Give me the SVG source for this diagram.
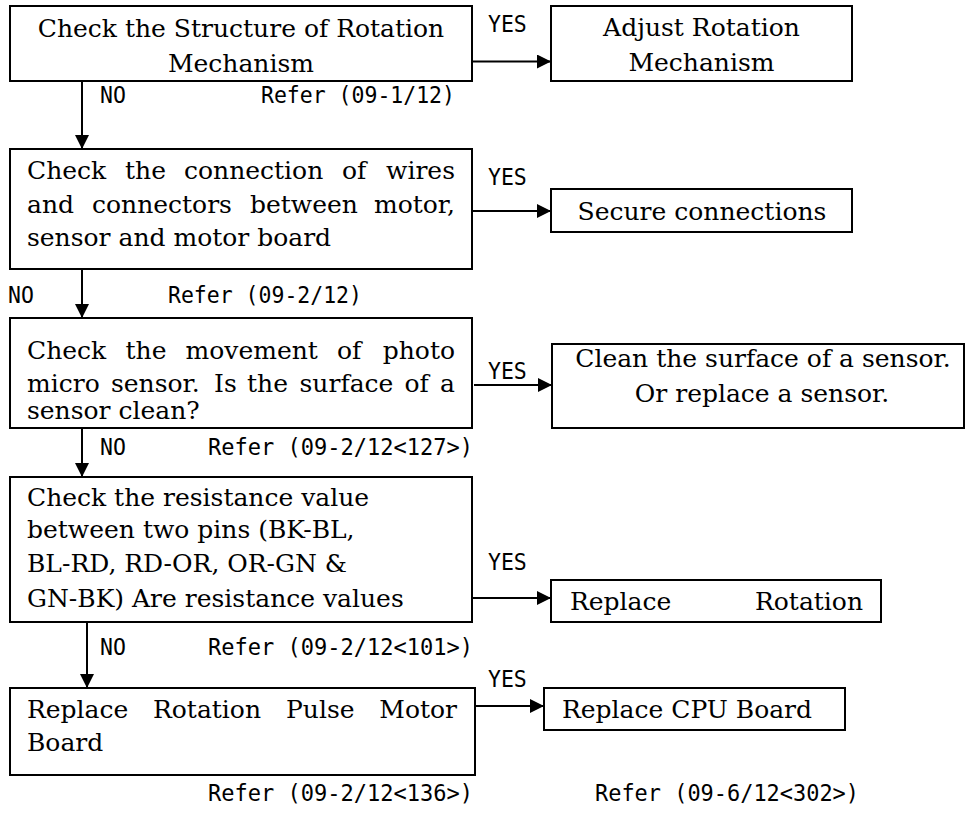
<svg xmlns="http://www.w3.org/2000/svg" width="965" height="814" viewBox="0 0 965 814">
  <style>
    .box { fill: #ffffff; stroke: #000000; stroke-width: 2; }
    .txt { font-family: "DejaVu Serif", "Liberation Serif", serif; font-size: 25px; fill: #000000; }
    .mid { text-anchor: middle; }
    .lbl { font-family: "DejaVu Sans Mono", "Liberation Mono", monospace; font-size: 23.5px; fill: #000000; }
    .link { fill: none; stroke: #000000; stroke-width: 2; marker-end: url(#arrow); }
  </style>
  <defs>
    <marker id="arrow" viewBox="0 0 14 14" refX="14" refY="7" markerWidth="14" markerHeight="14" markerUnits="userSpaceOnUse" orient="auto">
      <path d="M0,0 L14,7 L0,14 Z" fill="#000000"/>
    </marker>
  </defs>
  <rect width="965" height="814" fill="#ffffff"/>

  <!-- connectors and their YES / NO / Refer labels (narrow monospace, 12.9px per cell) -->
  <g id="connectors">
    <line class="link" x1="472" y1="61.5" x2="551" y2="61.5"/>
    <line class="link" x1="82" y1="81" x2="82" y2="149"/>
    <line class="link" x1="472" y1="211" x2="551" y2="211"/>
    <line class="link" x1="82" y1="269" x2="82" y2="318"/>
    <line class="link" x1="474" y1="385" x2="552" y2="385"/>
    <line class="link" x1="82" y1="428" x2="82" y2="477"/>
    <line class="link" x1="472" y1="598" x2="551" y2="598"/>
    <line class="link" x1="87" y1="622" x2="87" y2="688"/>
    <line class="link" x1="475" y1="706" x2="544" y2="706"/>
    <text class="lbl" x="488" y="32" textLength="38.8" lengthAdjust="spacingAndGlyphs">YES</text>
    <text class="lbl" x="100" y="103" textLength="25.9" lengthAdjust="spacingAndGlyphs">NO</text>
    <text class="lbl" x="261" y="103" textLength="194" lengthAdjust="spacingAndGlyphs">Refer (09-1/12)</text>
    <text class="lbl" x="488" y="185" textLength="38.8" lengthAdjust="spacingAndGlyphs">YES</text>
    <text class="lbl" x="8" y="303" textLength="25.9" lengthAdjust="spacingAndGlyphs">NO</text>
    <text class="lbl" x="168" y="303" textLength="194" lengthAdjust="spacingAndGlyphs">Refer (09-2/12)</text>
    <text class="lbl" x="488" y="379" textLength="38.8" lengthAdjust="spacingAndGlyphs">YES</text>
    <text class="lbl" x="100" y="455" textLength="25.9" lengthAdjust="spacingAndGlyphs">NO</text>
    <text class="lbl" x="208" y="455" textLength="265" lengthAdjust="spacingAndGlyphs">Refer (09-2/12&lt;127&gt;)</text>
    <text class="lbl" x="488" y="570" textLength="38.8" lengthAdjust="spacingAndGlyphs">YES</text>
    <text class="lbl" x="100" y="655" textLength="25.9" lengthAdjust="spacingAndGlyphs">NO</text>
    <text class="lbl" x="208" y="655" textLength="265" lengthAdjust="spacingAndGlyphs">Refer (09-2/12&lt;101&gt;)</text>
    <text class="lbl" x="488" y="687" textLength="38.8" lengthAdjust="spacingAndGlyphs">YES</text>
    <text class="lbl" x="208" y="801" textLength="265" lengthAdjust="spacingAndGlyphs">Refer (09-2/12&lt;136&gt;)</text>
    <text class="lbl" x="595" y="801" textLength="264" lengthAdjust="spacingAndGlyphs">Refer (09-6/12&lt;302&gt;)</text>
  </g>

  <g id="check-structure">
    <rect class="box" x="10" y="6" width="462" height="75"/>
    <text class="txt mid" x="241" y="37">Check the Structure of Rotation</text>
    <text class="txt mid" x="241" y="72">Mechanism</text>
  </g>

  <g id="adjust-rotation">
    <rect class="box" x="551" y="6" width="301" height="75"/>
    <text class="txt mid" x="701.5" y="36">Adjust Rotation</text>
    <text class="txt mid" x="701.5" y="71">Mechanism</text>
  </g>

  <!-- justified paragraphs: one tspan per word -->
  <g id="check-connection">
    <rect class="box" x="10" y="149" width="462" height="120"/>
    <text class="txt" y="179"><tspan x="27">Check</tspan><tspan x="125">the</tspan><tspan x="184">connection</tspan><tspan x="342">of</tspan><tspan x="455" text-anchor="end">wires</tspan></text>
    <text class="txt" y="213"><tspan x="27">and</tspan><tspan x="92">connectors</tspan><tspan x="250">between</tspan><tspan x="455" text-anchor="end">motor,</tspan></text>
    <text class="txt" x="27" y="246">sensor and motor board</text>
  </g>

  <g id="secure-connections">
    <rect class="box" x="551" y="189" width="301" height="43"/>
    <text class="txt mid" x="702" y="220">Secure connections</text>
  </g>

  <g id="check-sensor">
    <rect class="box" x="10" y="318" width="462" height="110"/>
    <text class="txt" y="359"><tspan x="27">Check</tspan><tspan x="125.5">the</tspan><tspan x="185.5">movement</tspan><tspan x="337">of</tspan><tspan x="455" text-anchor="end">photo</tspan></text>
    <text class="txt" y="392"><tspan x="27">micro</tspan><tspan x="111">sensor.</tspan><tspan x="214">Is</tspan><tspan x="247">the</tspan><tspan x="299.5">surface</tspan><tspan x="404.5">of</tspan><tspan x="455" text-anchor="end">a</tspan></text>
    <text class="txt" x="27" y="419">sensor clean?</text>
  </g>

  <g id="clean-sensor">
    <rect class="box" x="552" y="344" width="412" height="84"/>
    <text class="txt mid" x="763" y="367">Clean the surface of a sensor.</text>
    <text class="txt mid" x="762" y="402">Or replace a sensor.</text>
  </g>

  <g id="check-resistance">
    <rect class="box" x="10" y="477" width="462" height="145"/>
    <text class="txt" x="27" y="506">Check the resistance value</text>
    <text class="txt" x="27" y="538">between two pins (BK-BL,</text>
    <text class="txt" x="27" y="572">BL-RD, RD-OR, OR-GN &amp;</text>
    <text class="txt" x="27" y="607">GN-BK) Are resistance values</text>
  </g>

  <g id="replace-rotation">
    <rect class="box" x="551" y="580" width="330" height="42"/>
    <text class="txt" y="610"><tspan x="570">Replace</tspan><tspan x="863" text-anchor="end">Rotation</tspan></text>
  </g>

  <g id="replace-motor-board">
    <rect class="box" x="10" y="688" width="465" height="87"/>
    <text class="txt" y="718"><tspan x="27">Replace</tspan><tspan x="153">Rotation</tspan><tspan x="286">Pulse</tspan><tspan x="457" text-anchor="end">Motor</tspan></text>
    <text class="txt" x="27" y="751">Board</text>
  </g>

  <g id="replace-cpu-board">
    <rect class="box" x="544" y="688" width="301" height="42"/>
    <text class="txt" x="562" y="718">Replace CPU Board</text>
  </g>
</svg>
